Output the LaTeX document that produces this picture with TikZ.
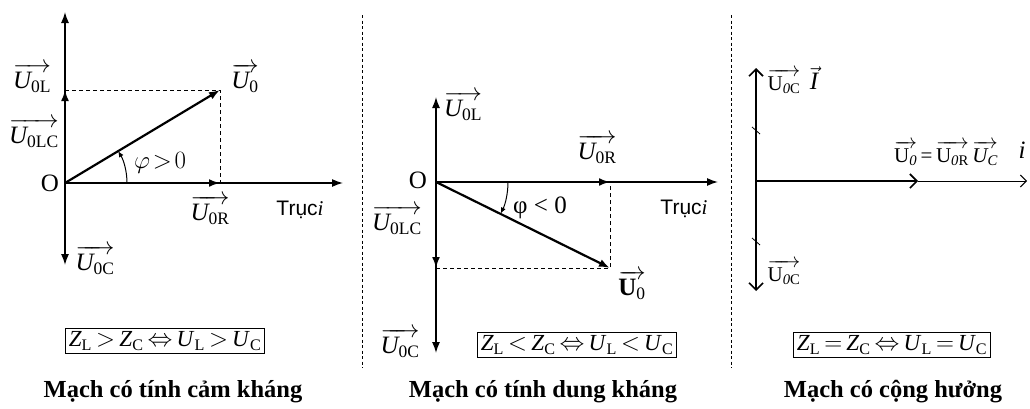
\documentclass[tikz,border=0pt]{standalone}
\usepackage{amsmath}
\usepackage{fontspec}
\setmainfont{Liberation Serif}
\newfontfamily\sansf{Liberation Sans}
\usetikzlibrary{arrows.meta}
\newcommand{\vU}[1]{$\overrightarrow{\textit{U}_{\text{#1}}}$}
\newcommand{\vUr}[2]{$\overrightarrow{\text{U}_{\textit{#1}\text{#2}}}$}
\newcommand{\IZ}{\textit{Z}}
\newcommand{\IU}{\textit{U}}
\begin{document}
\begin{tikzpicture}[x=1pt,y=1pt,
  vec/.style={line width=2.2pt,-{Latex[length=11pt,width=8pt]}},
  axis/.style={line width=1.4pt,-{Latex[length=11pt,width=8pt]}},
  obarb/.style={-{Straight Barb[length=7pt,width=14pt,line width=1.6pt]}},
  guide/.style={line width=1pt,dash pattern=on 4pt off 3pt},
  divider/.style={line width=1pt,dash pattern=on 3pt off 2.5pt},
  lab/.style={font=\fontsize{25}{28}\selectfont,inner sep=0pt},
  slab/.style={font=\fontsize{21}{24}\selectfont,inner sep=0pt},
  axlab/.style={font=\sansf\fontsize{21}{24}\selectfont,inner sep=0pt},
  cond/.style={draw,line width=0.9pt,inner sep=3pt,font=\fontsize{23}{26}\selectfont},
  ttl/.style={font=\bfseries\fontsize{24.5}{28}\selectfont,inner sep=0pt},
  angarc/.style={line width=1pt,-{Latex[length=6pt,width=5pt]}}]
\useasboundingbox (0,0) rectangle (1030,-408);

% ---------- dividers ----------
\coordinate (D1t) at (362,-15); \coordinate (D1b) at (362,-368);
\coordinate (D2t) at (731,-15); \coordinate (D2b) at (731,-368);
\draw[divider] (D1t) -- (D1b);
\draw[divider] (D2t) -- (D2b);

% ---------- panel 1 ----------
\coordinate (O1) at (65,-183);
\coordinate (Y1) at (65,-12);
\coordinate (X1) at (343,-183);
\coordinate (L1) at (65,-90);
\coordinate (C1) at (65,-265);
\coordinate (R1) at (220,-183);
\coordinate (U1) at (220,-90);
\coordinate (A1) at (127,-183);
\draw[axis] (O1) -- (Y1);
\draw[axis] (O1) -- (X1);
\draw[axis] (O1) -- (C1);
\draw[guide] (L1) -- (U1) -- (R1);
\draw[vec] (O1) -- (L1);
\draw[vec] (O1) -- (R1);
\draw[vec] (O1) -- (U1);
\draw[angarc] (A1) arc[start angle=0,end angle=31,radius=62pt];
\node[lab] (o1) at (50,-183) {O};
\node[lab] (l1) at (32,-78) {\vU{0L}};
\node[lab] (lc1) at (34,-133) {\vU{0LC}};
\node[lab] (u1) at (245,-78) {$\overrightarrow{\textit{U}_{\text{0}}}$};
\node[lab] (p1) at (160,-163) {$\varphi\!>\!0$};
\node[lab] (r1) at (210,-210) {\vU{0R}};
\node[axlab] (t1) at (300,-210) {Trục\textit{\rmfamily i}};
\node[lab] (c1) at (95,-260) {\vU{0C}};
\node[cond] (b1) at (165,-341) {\IZ$_{\text{L}}\,{>}\,$\IZ$_{\text{C}}\,{\Leftrightarrow}\,$\IU$_{\text{L}}\,{>}\,$\IU$_{\text{C}}$};
\node[ttl] (h1) at (173,-392) {Mạch có tính cảm kháng};

% ---------- panel 2 ----------
\coordinate (O2) at (436,-182);
\coordinate (Y2) at (436,-97);
\coordinate (X2) at (718,-182);
\coordinate (LC2) at (436,-268);
\coordinate (C2) at (436,-353);
\coordinate (R2) at (610,-182);
\coordinate (U2) at (610,-268);
\coordinate (A2) at (508,-182);
\draw[axis] (O2) -- (Y2);
\draw[axis] (O2) -- (X2);
\draw[axis] (O2) -- (C2);
\draw[guide] (LC2) -- (U2) -- (R2);
\draw[vec] (O2) -- (LC2);
\draw[vec] (O2) -- (R2);
\draw[vec] (O2) -- (U2);
\draw[angarc] (A2) arc[start angle=0,end angle=-26,radius=72pt];
\node[lab] (o2) at (418,-180) {O};
\node[lab] (l2) at (463,-106) {\vU{0L}};
\node[lab] (r2) at (597,-149) {\vU{0R}};
\node[lab] (p2) at (540,-208) {φ < 0};
\node[axlab] (t2) at (684,-209) {Trục\textit{\rmfamily i}};
\node[lab] (lc2) at (397,-220) {\vU{0LC}};
\node[lab] (u2) at (632,-285) {$\overrightarrow{\textbf{U}_{\text{0}}}$};
\node[lab] (c2) at (400,-343) {\vU{0C}};
\node[cond] (b2) at (577,-345) {\IZ$_{\text{L}}\,{<}\,$\IZ$_{\text{C}}\,{\Leftrightarrow}\,$\IU$_{\text{L}}\,{<}\,$\IU$_{\text{C}}$};
\node[ttl] (h2) at (543,-392) {Mạch có tính dung kháng};

% ---------- panel 3 ----------
\coordinate (O3) at (756,-181);
\coordinate (Y3) at (756,-68);
\coordinate (C3) at (756,-291);
\coordinate (R3) at (918,-181);
\coordinate (X3) at (1027,-181);
\coordinate (k1a) at (752,-127); \coordinate (k1b) at (760,-134);
\coordinate (k2a) at (752,-238); \coordinate (k2b) at (760,-245);
\draw[line width=2pt,obarb] (O3) -- (Y3);
\draw[line width=2pt,obarb] (O3) -- (C3);
\draw[line width=2pt,obarb] (O3) -- (R3);
\draw[line width=1pt,-{Straight Barb[length=6pt,width=12pt,line width=1pt]}] (R3) -- (X3);
\draw[line width=0.8pt] (k1a) -- (k1b);
\draw[line width=0.8pt] (k2a) -- (k2b);
\node[slab] (c3t) at (784,-81) {\vUr{0}{C}};
\node[lab] (i3) at (814,-78) {$\vec{\textit{I}}$};
\node[slab] (eq3) at (946,-153) {\vUr{0}{}\,=\,\vUr{0}{R}\,$\overrightarrow{\textit{U}_{\textit{C}}}$};
\node[lab] (ii3) at (1022,-150) {\textit{i}};
\node[slab] (c3b) at (784,-272) {\vUr{0}{C}};
\node[cond] (b3) at (892,-345) {\IZ$_{\text{L}}\,{=}\,$\IZ$_{\text{C}}\,{\Leftrightarrow}\,$\IU$_{\text{L}}\,{=}\,$\IU$_{\text{C}}$};
\node[ttl] (h3) at (893,-392) {Mạch có cộng hưởng};
\end{tikzpicture}
\end{document}
